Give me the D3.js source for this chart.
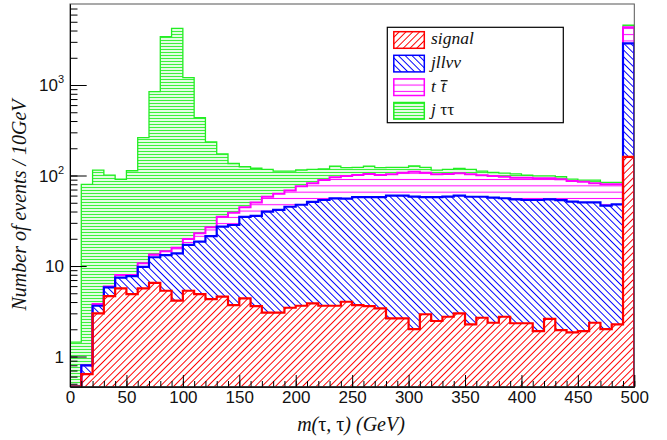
<!DOCTYPE html>
<html><head><meta charset="utf-8">
<script src="https://cdn.jsdelivr.net/npm/d3@7"></script>
<style>body{margin:0;background:#fff}svg{display:block}</style>
</head><body><svg id="c" width="667" height="440"></svg>
<script>
// ---------- data (10 GeV bins, lower edges) ----------
const binLow = [0,10,20,30,40,50,60,70,80,90,100,110,120,130,140,150,160,170,180,190,
  200,210,220,230,240,250,260,270,280,290,300,310,320,330,340,350,360,370,380,390,
  400,410,420,430,440,450,460,470,480,490];
const signal = [0,0.64,3.0,4.66,5.67,4.9,5.67,6.5,5.33,4.14,5.33,4.9,4.3,4.6,3.7,4.4,3.6,3.05,3.05,3.46,
  3.64,3.87,3.64,3.64,4.03,3.7,3.6,3.4,2.64,2.64,2.01,2.93,2.47,2.75,3.0,2.27,2.68,2.36,2.75,2.33,
  2.33,1.91,2.6,1.96,1.85,1.91,2.36,2.01,2.27,161];
const jllvv = [0,0.16,0.64,1.16,1.76,2.85,4.13,6.0,7.87,9.66,11.8,13.7,17.1,22.6,24.7,30.6,32.3,36.8,38.6,41.7,
  43.9,47.3,50.0,52.4,51.4,54.1,54.2,54.4,57.2,57.2,56.5,54.9,55.3,55.6,56.8,56.0,55.6,54.5,53.3,52.3,
  51.3,51.7,52.0,51.6,49.6,48.6,48.1,44.4,45.7,2729];
const ttbar = [0,0,0.16,0.13,0.52,0.2,0.9,0.9,1.4,2.1,2.8,4.4,5.4,7.8,10.4,9.5,14.4,18.5,21.4,23.3,
  28.5,30.8,35.4,39.5,43.3,43.2,46.2,43.2,43.2,47.2,51.5,49.2,45.2,45.7,46.2,44.7,42.7,41.8,41.0,40.0,
  41.0,39.4,38.4,37.4,35.6,35.0,31.5,33.6,32.0,1450];
const jtautau = [1.44,79.2,111,95,83,105,251,830,3405,4214,1185,412,209,138,97,80.5,70,58.7,49,43.5,
  39,35,29,31.5,23.3,22,23,21,20,16,18,16,12,13,14,14,11,9.3,9,9.4,
  6.4,6,6,6,4,3.5,7,4,4,260];
const xTickLabels = ["0","50","100","150","200","250","300","350","400","450","500"];
const xTickValues = [0,50,100,150,200,250,300,350,400,450,500];
const yTickValues = [1,10,100,1000];
const yTickBase = ["1","10","10","10"];
const yTickExp = ["","","2","3"];

// ---------- layout ----------
const P = {l:70, r:634.3, t:4, b:386.7};
const YMIN = 0.464, YMAX = 7855;
const x = d3.scaleLinear().domain([0,500]).range([P.l,P.r]);
const y = d3.scaleLog().domain([YMIN,YMAX]).range([P.b,P.t]).clamp(true);
const yv = v => y(Math.max(v, 1e-3));

const svg = d3.select('#c');
svg.append('rect').attr('width',667).attr('height',440).attr('fill','#fff');
const defs = svg.append('defs');
defs.append('clipPath').attr('id','plotclip').append('rect')
  .attr('x',P.l).attr('y',P.t).attr('width',P.r-P.l).attr('height',P.b-P.t);

function hatch(id,color,angle,spacing,width){
  const p = defs.append('pattern').attr('id',id).attr('patternUnits','userSpaceOnUse')
    .attr('width',spacing).attr('height',spacing).attr('patternTransform',`rotate(${angle})`);
  p.append('rect').attr('width',spacing).attr('height',spacing).attr('fill','#fff');
  p.append('line').attr('x1',spacing/2).attr('x2',spacing/2).attr('y1',-1).attr('y2',spacing+1)
    .attr('stroke',color).attr('stroke-width',width);
}
hatch('pSig','#ff0000',45,4.8,1);
hatch('pJll','#0000ff',-45,4.8,1);
hatch('pTT','#ff00ff',90,6.3,1);
hatch('pJtt','#3cf03c',90,3.0,1.3);

const styles = {
  signal:{fill:'url(#pSig)', stroke:'#ff0000', sw:2.2},
  jllvv:{fill:'url(#pJll)', stroke:'#0000ff', sw:2.2},
  ttbar:{fill:'url(#pTT)', stroke:'#ff00ff', sw:2},
  jtautau:{fill:'url(#pJtt)', stroke:'#22ee22', sw:1.3}
};

const keys = ['signal','jllvv','ttbar','jtautau'];
const table = binLow.map((b,i)=>({x0:b, signal:signal[i], jllvv:jllvv[i], ttbar:ttbar[i], jtautau:jtautau[i]}));
const stacked = d3.stack().keys(keys)(table);

const plot = svg.append('g').attr('clip-path','url(#plotclip)');

// band fills
const area = d3.area().x(p=>x(p.x)).y0(p=>yv(p.lo)).y1(p=>yv(p.hi)).curve(d3.curveStepAfter);
stacked.forEach(s=>{
  const pts = s.map(d=>({x:d.data.x0, lo:d[0], hi:d[1]}));
  const last = pts[pts.length-1];
  pts.push({x:500, lo:last.lo, hi:last.hi});
  plot.append('path').attr('d',area(pts)).attr('fill',styles[s.key].fill).attr('stroke','none');
});

// outlines (top of each cumulative histogram), drawn top-of-stack first
const line = d3.line().x(p=>x(p.x)).y(p=>yv(p.v)).curve(d3.curveStepAfter);
stacked.slice().reverse().forEach(s=>{
  const pts = [{x:0, v:1e-3}].concat(s.map(d=>({x:d.data.x0, v:d[1]})));
  pts.push({x:500, v:s[s.length-1][1]});
  pts.push({x:500, v:1e-3});
  plot.append('path').attr('d',line(pts)).attr('fill','none')
    .attr('stroke',styles[s.key].stroke).attr('stroke-width',styles[s.key].sw);
});

// frame
svg.append('rect').attr('x',P.l).attr('y',P.t).attr('width',P.r-P.l).attr('height',P.b-P.t)
  .attr('fill','none').attr('stroke','#555').attr('stroke-width',1);

// x axis ticks (inside)
const gx = svg.append('g').attr('transform',`translate(0,${P.b})`);
gx.call(d3.axisBottom(x).tickValues(x.ticks(50)).tickSize(-5.7).tickSizeOuter(0).tickFormat(''));
gx.append('g').call(d3.axisBottom(x).tickValues(xTickValues).tickSize(-11.7).tickSizeOuter(0)
  .tickPadding(4).tickFormat((d,i)=>xTickLabels[i]));
gx.selectAll('.domain').attr('stroke','#000');
gx.selectAll('text').attr('font-family','Liberation Sans, Arial, sans-serif').attr('font-size',17).attr('fill','#111');

// y axis ticks (inside)
const gy = svg.append('g').attr('transform',`translate(${P.l},0)`);
gy.call(d3.axisLeft(y).tickValues(y.ticks()).tickSize(-7.5).tickSizeOuter(0).tickFormat(''));
gy.append('g').call(d3.axisLeft(y).tickValues(yTickValues).tickSize(-16.7).tickSizeOuter(0).tickFormat(''));
gy.selectAll('.domain').attr('stroke','#000');
const yl = svg.append('g').attr('font-family','Liberation Sans, Arial, sans-serif').attr('font-size',17).attr('fill','#111');
yTickValues.forEach((v,i)=>{
  const t = yl.append('text').attr('x',64).attr('y',y(v)+6).attr('text-anchor','end');
  t.append('tspan').text(yTickBase[i]);
  if (yTickExp[i]) t.append('tspan').attr('font-size',11).attr('dy',-8).text(yTickExp[i]);
});

// axis titles
const xt = svg.append('text').attr('x',351).attr('y',431).attr('text-anchor','middle')
  .attr('font-family','Liberation Serif, Times New Roman, serif').attr('font-size',20).attr('fill','#111');
xt.append('tspan').attr('font-style','italic').text('m(');
xt.append('tspan').text('τ');
xt.append('tspan').attr('font-style','italic').text(', ');
xt.append('tspan').text('τ');
xt.append('tspan').attr('font-style','italic').text(') (GeV)');

svg.append('text').attr('transform','translate(26,205) rotate(-90)').attr('text-anchor','middle')
  .attr('font-family','Liberation Serif, Times New Roman, serif').attr('font-style','italic')
  .attr('font-size',20).attr('fill','#111').text('Number of events / 10GeV');

// legend
const L = {x:387.3, y:27.3, w:176, h:95.4};
const lg = svg.append('g');
lg.append('rect').attr('x',L.x).attr('y',L.y).attr('width',L.w).attr('height',L.h)
  .attr('fill','#fff').attr('stroke','#000').attr('stroke-width',1.2);
keys.forEach((k,i)=>{
  const sy = 31.7 + i*23.6;
  lg.append('rect').attr('x',393.8).attr('y',sy).attr('width',30.5).attr('height',16.6)
    .attr('fill',styles[k].fill).attr('stroke',styles[k].stroke).attr('stroke-width',1.5);
  const t = lg.append('text').attr('x',431).attr('y',sy+12.6)
    .attr('font-family','Liberation Serif, Times New Roman, serif').attr('font-size',17.5).attr('fill','#111');
  if (k==='signal') t.attr('font-style','italic').text('signal');
  else if (k==='jllvv') t.attr('font-style','italic').text('jllvv');
  else if (k==='ttbar') {
    t.attr('font-style','italic');
    t.append('tspan').text('t ');
    t.append('tspan').attr('dx',1).text('t');
    const ext = t.node().getExtentOfChar(2);
    lg.append('line').attr('x1',ext.x-0.5).attr('x2',ext.x+ext.width+1.5)
      .attr('y1',sy+1.8).attr('y2',sy+1.8).attr('stroke','#111').attr('stroke-width',1.3);
  } else {
    t.append('tspan').attr('font-style','italic').text('j ');
    t.append('tspan').text('ττ');
  }
});
</script></body></html>
